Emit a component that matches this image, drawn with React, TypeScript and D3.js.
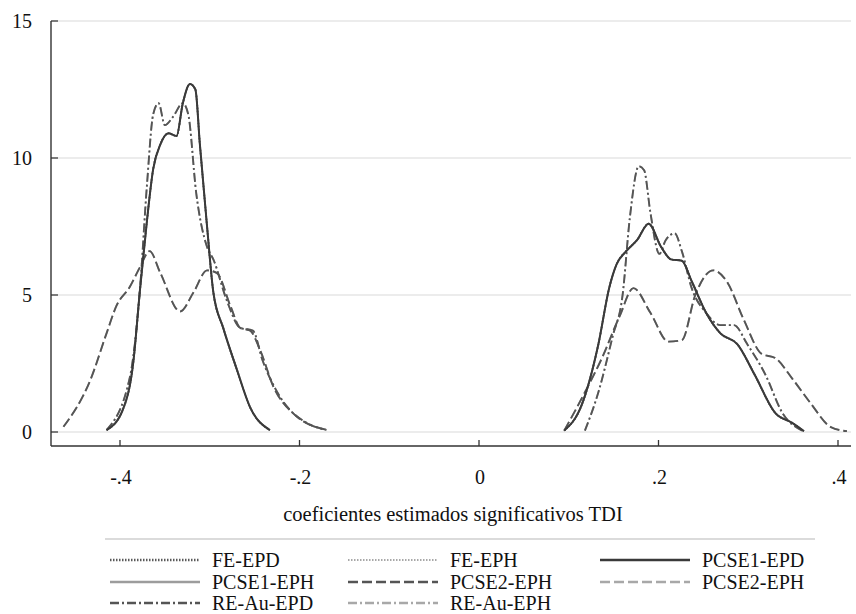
import React from "react";
import * as d3 from "d3";

type Pt = [number, number];

// x ticks / y ticks
const xTicks = [-0.4, -0.2, 0, 0.2, 0.4];
const xTickLabels = ["-.4", "-.2", "0", ".2", ".4"];
const yTicks = [0, 5, 10, 15];
const yTickLabels = ["0", "5", "10", "15"];
const xTitle = "coeficientes estimados significativos TDI";

// Left cluster curves
const narrowSolidLeft: Pt[] = [
  [-0.415, 0.07], [-0.397, 0.8], [-0.385, 2.6], [-0.378, 5.1], [-0.37, 7.7],
  [-0.363, 9.6], [-0.355, 10.5], [-0.346, 10.9], [-0.337, 10.8], [-0.33, 12.0],
  [-0.322, 12.7], [-0.316, 12.5], [-0.311, 10.5], [-0.303, 7.5], [-0.296, 5.1],
  [-0.285, 3.8], [-0.27, 2.3], [-0.255, 0.9], [-0.233, 0.07],
];
const narrowDashDotLeft: Pt[] = [
  [-0.415, 0.07], [-0.389, 2.0], [-0.378, 5.1], [-0.37, 9.0], [-0.363, 11.6],
  [-0.357, 12.0], [-0.35, 11.2], [-0.341, 11.5], [-0.33, 12.0], [-0.324, 11.6],
  [-0.315, 8.7], [-0.303, 6.75], [-0.296, 6.3], [-0.281, 4.8], [-0.266, 3.8],
  [-0.252, 3.7], [-0.241, 2.6], [-0.222, 1.3], [-0.192, 0.33], [-0.17, 0.08],
];
const wideLeft: Pt[] = [
  [-0.463, 0.19], [-0.433, 1.9], [-0.415, 3.6], [-0.404, 4.6], [-0.389, 5.3],
  [-0.378, 6.0], [-0.367, 6.6], [-0.355, 5.8], [-0.333, 4.4], [-0.318, 5.1],
  [-0.303, 5.9], [-0.292, 5.8], [-0.277, 4.6], [-0.266, 3.8], [-0.255, 3.7],
  [-0.244, 3.0], [-0.229, 1.65], [-0.207, 0.68], [-0.17, 0.08],
];

// Right cluster curves
const solidRight: Pt[] = [
  [0.095, 0.05], [0.114, 0.95], [0.133, 3.2], [0.145, 5.25], [0.153, 6.1],
  [0.164, 6.6], [0.176, 7.0], [0.189, 7.6], [0.203, 6.75], [0.214, 6.3],
  [0.226, 6.25], [0.237, 5.5], [0.253, 4.35], [0.269, 3.6], [0.288, 3.2],
  [0.307, 2.1], [0.33, 0.7], [0.349, 0.33], [0.362, 0.03],
];
const dashDotRight: Pt[] = [
  [0.118, 0.05], [0.133, 1.45], [0.149, 3.5], [0.16, 5.0], [0.168, 7.8],
  [0.178, 9.7], [0.184, 9.55], [0.191, 8.0], [0.201, 6.5], [0.208, 7.0],
  [0.218, 7.25], [0.226, 6.6], [0.237, 5.25], [0.253, 4.35], [0.269, 3.9],
  [0.284, 3.9], [0.299, 3.2], [0.319, 2.1], [0.338, 0.7], [0.36, 0.05],
];
const bimodalRight: Pt[] = [
  [0.095, 0.05], [0.118, 1.45], [0.137, 2.7], [0.157, 4.25], [0.172, 5.25],
  [0.191, 4.35], [0.211, 3.3], [0.226, 3.35], [0.241, 5.0], [0.261, 5.9],
  [0.276, 5.5], [0.295, 4.1], [0.315, 2.85], [0.33, 2.7], [0.349, 1.95],
  [0.369, 1.07], [0.392, 0.18], [0.41, 0.03],
];

const seriesLabels = [
  "FE-EPD", "FE-EPH", "PCSE1-EPD",
  "PCSE1-EPH", "PCSE2-EPH", "PCSE2-EPH",
  "RE-Au-EPD", "RE-Au-EPH",
];
const seriesSegments: Pt[][][] = [
  [narrowSolidLeft, solidRight],
  [narrowSolidLeft, solidRight],
  [narrowSolidLeft, solidRight],
  [narrowSolidLeft, solidRight],
  [wideLeft, bimodalRight],
  [wideLeft, bimodalRight],
  [narrowDashDotLeft, dashDotRight],
  [narrowDashDotLeft, dashDotRight],
];

const styles = [
  { color: "#5a5a5a", dash: "1.5,1.5", w: 1.8 },
  { color: "#a8a8a8", dash: "1.5,1.5", w: 1.6 },
  { color: "#3a3a3a", dash: "", w: 2 },
  { color: "#9c9c9c", dash: "", w: 1.8 },
  { color: "#555555", dash: "10,4", w: 1.9 },
  { color: "#a8a8a8", dash: "10,4", w: 1.7 },
  { color: "#555555", dash: "9,3,2,3", w: 1.9 },
  { color: "#a8a8a8", dash: "9,3,2,3", w: 1.7 },
];

const W = 856;
const H = 614;
const FONT = '"Liberation Serif", "DejaVu Serif", "Noto Serif", serif';
const textStyle: React.CSSProperties = { fontFamily: FONT };

export default function App() {
  const x = d3.scaleLinear().domain([-0.4, 0.4]).range([120, 838]);
  const y = d3.scaleLinear().domain([0, 15]).range([432, 21]);
  const line = d3
    .line<Pt>()
    .x((d) => x(d[0]))
    .y((d) => y(d[1]))
    .curve(d3.curveMonotoneX);

  const axisLeft = 51;
  const axisBottom = 446;
  const plotRight = 851;
  const drawOrder = [1, 3, 5, 7, 0, 4, 6, 2];

  const legendCols = [110, 348, 600];
  const legendRows = [560, 582, 603];

  return (
    <svg
      width={W}
      height={H}
      style={{ position: "absolute", left: 0, top: 0, background: "#fff" }}
    >
      <rect x={0} y={0} width={W} height={H} fill="#fff" />
      {/* grid */}
      {yTicks.map((t) => (
        <line
          key={"g" + t}
          x1={58}
          x2={plotRight}
          y1={y(t)}
          y2={y(t)}
          stroke="#ececec"
          strokeWidth={2}
        />
      ))}
      {/* curves */}
      {drawOrder.map((i) =>
        seriesSegments[i].map((seg, j) => (
          <path
            key={i + "-" + j}
            d={line(seg) || ""}
            fill="none"
            stroke={styles[i].color}
            strokeWidth={styles[i].w}
            strokeDasharray={styles[i].dash || undefined}
            strokeLinejoin="round"
          />
        ))
      )}
      {/* axes */}
      <line x1={axisLeft} x2={axisLeft} y1={21} y2={axisBottom} stroke="#333" strokeWidth={1.4} />
      <line x1={axisLeft} x2={plotRight} y1={axisBottom} y2={axisBottom} stroke="#333" strokeWidth={1.4} />
      {yTicks.map((t, i) => (
        <g key={"yt" + t}>
          <line x1={axisLeft} x2={axisLeft + 7} y1={y(t)} y2={y(t)} stroke="#333" strokeWidth={1.3} />
          <text x={32} y={y(t) + 7} textAnchor="end" fontSize={20} fill="#111" style={textStyle}>
            {yTickLabels[i]}
          </text>
        </g>
      ))}
      {xTicks.map((t, i) => (
        <g key={"xt" + t}>
          <line x1={x(t)} x2={x(t)} y1={axisBottom - 6} y2={axisBottom} stroke="#333" strokeWidth={1.3} />
          <text x={x(t) + 1} y={484} textAnchor="middle" fontSize={20} fill="#111" style={textStyle}>
            {xTickLabels[i]}
          </text>
        </g>
      ))}
      <text x={453} y={521} textAnchor="middle" fontSize={20.5} fill="#111" style={textStyle}>
        {xTitle}
      </text>
      {/* legend */}
      <line x1={105} x2={815} y1={539} y2={539} stroke="#cfcfcf" strokeWidth={1.5} />
      {seriesLabels.map((lab, i) => {
        const cx = legendCols[i % 3];
        const cy = legendRows[Math.floor(i / 3)];
        return (
          <g key={"lg" + i}>
            <line
              x1={cx}
              x2={cx + 90}
              y1={cy}
              y2={cy}
              stroke={styles[i].color}
              strokeWidth={styles[i].w + 0.6}
              strokeDasharray={styles[i].dash || undefined}
            />
            <text x={cx + 102} y={cy + 7} fontSize={20} fill="#111" style={textStyle}>
              {lab}
            </text>
          </g>
        );
      })}
    </svg>
  );
}
